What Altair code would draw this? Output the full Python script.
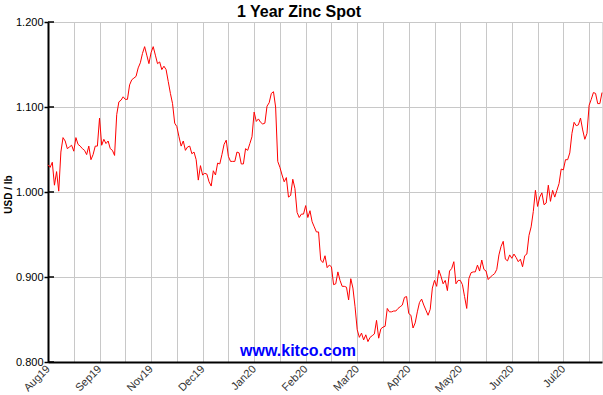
import altair as alt
import pandas as pd

# Zinc spot price (USD / lb), one value per trading day
prices = [
    1.032, 1.029, 1.035, 1.008, 1.024, 1.001, 1.047, 1.064, 1.060, 1.051,
    1.053, 1.055, 1.048, 1.064, 1.056, 1.054, 1.051, 1.049, 1.044, 1.054,
    1.038, 1.044, 1.054, 1.054, 1.087, 1.055, 1.062, 1.057, 1.060, 1.051,
    1.049, 1.043, 1.091, 1.106, 1.108, 1.112, 1.109, 1.109, 1.126, 1.132,
    1.134, 1.136, 1.146, 1.152, 1.163, 1.171, 1.161, 1.151, 1.164, 1.171,
    1.161, 1.151, 1.153, 1.144, 1.148, 1.144, 1.130, 1.116, 1.104, 1.081,
    1.077, 1.065, 1.054, 1.060, 1.049, 1.053, 1.054, 1.045, 1.047, 1.038,
    1.014, 1.031, 1.020, 1.022, 1.021, 1.012, 1.007, 1.025, 1.020, 1.034,
    1.033, 1.044, 1.056, 1.061, 1.042, 1.036, 1.036, 1.036, 1.047, 1.046,
    1.033, 1.033, 1.051, 1.049, 1.057, 1.065, 1.094, 1.083, 1.086, 1.082,
    1.080, 1.081, 1.101, 1.105, 1.116, 1.118, 1.100, 1.036, 1.029, 1.020,
    1.012, 1.017, 0.994, 0.996, 1.015, 1.004, 0.976, 0.970, 0.974, 0.974,
    0.984, 0.970, 0.978, 0.965, 0.959, 0.953, 0.953, 0.920, 0.917, 0.925,
    0.911, 0.914, 0.912, 0.891, 0.892, 0.906, 0.896, 0.889, 0.889, 0.888,
    0.873, 0.898, 0.887, 0.865, 0.838, 0.829, 0.834, 0.826, 0.832, 0.824,
    0.829, 0.831, 0.833, 0.849, 0.828, 0.839, 0.841, 0.842, 0.863, 0.859,
    0.859, 0.860, 0.860, 0.863, 0.865, 0.867, 0.876, 0.877, 0.857, 0.855,
    0.840, 0.846, 0.859, 0.870, 0.874, 0.867, 0.861, 0.855, 0.862, 0.887,
    0.896, 0.889, 0.908, 0.901, 0.892, 0.896, 0.884, 0.907, 0.910, 0.918,
    0.892, 0.896, 0.896, 0.891, 0.877, 0.863, 0.898, 0.905, 0.906, 0.906,
    0.914, 0.907, 0.920, 0.909, 0.907, 0.897, 0.900, 0.902, 0.904, 0.909,
    0.926, 0.936, 0.942, 0.921, 0.919, 0.926, 0.922, 0.927, 0.923, 0.918,
    0.921, 0.912, 0.925, 0.927, 0.949, 0.959, 0.977, 1.002, 0.983, 0.994,
    0.999, 0.985, 0.987, 1.008, 0.989, 1.002, 0.994, 1.002, 1.010, 1.027,
    1.026, 1.038, 1.038, 1.046, 1.069, 1.082, 1.078, 1.079, 1.087, 1.073,
    1.062, 1.069, 1.102, 1.109, 1.117, 1.116, 1.104, 1.104, 1.117,
]

month_labels = ["Aug19", "Sep19", "Nov19", "Dec19", "Jan20", "Feb20",
                "Mar20", "Apr20", "May20", "Jun20", "Jul20"]
label_step = 24          # trading days between labelled gridlines
grid_step = 12           # trading days between gridlines
y_ticks = [0.8, 0.9, 1.0, 1.1, 1.2]

df = pd.DataFrame({"day": list(range(len(prices))), "price": prices})
n_days = len(prices) - 1

grid_values = list(range(0, n_days, grid_step))
labels_js = "[" + ",".join("'" + m + "'" for m in month_labels) + "]"
label_expr = (f"datum.value % {label_step} == 0 ? "
              f"{labels_js}[datum.value / {label_step}] : ''")

FONT = "Liberation Sans"

x_enc = alt.X(
    "day:Q",
    scale=alt.Scale(domain=[0, n_days], nice=False, zero=False),
    axis=alt.Axis(
        values=grid_values, labelExpr=label_expr, title=None,
        grid=True, gridColor="#c8c8c8", gridWidth=1,
        ticks=False, labelAngle=-45, labelAlign="right",
        labelBaseline="middle", labelPadding=5, labelFontSize=11,
        labelFont=FONT, labelColor="#333333",
        domainColor="black", domainWidth=2, labelOverlap=False,
    ),
)
y_enc = alt.Y(
    "price:Q",
    scale=alt.Scale(domain=[0.8, 1.2], nice=False, zero=False),
    axis=alt.Axis(
        values=y_ticks, format=".3f", title="USD / lb",
        titleFont=FONT, titleFontSize=10, titleFontWeight="bold",
        titleColor="black", titleX=-40, titleY=172, titleAlign="center",
        titleBaseline="middle", titleAngle=270,
        grid=True, gridColor="#c8c8c8", gridWidth=1,
        tickSize=4, tickColor="black", tickWidth=1.5,
        labelPadding=1, labelFontSize=11, labelFont=FONT, labelColor="black",
        domainColor="black", domainWidth=2,
    ),
)

line = alt.Chart(df).mark_line(color="#ff0000", strokeWidth=1).encode(x=x_enc, y=y_enc)

inner_ticks = alt.Chart(pd.DataFrame({"price": y_ticks})).mark_rule(
    color="black", strokeWidth=1.5
).encode(y=alt.Y("price:Q"), x=alt.value(0), x2=alt.value(6))

watermark = alt.Chart(pd.DataFrame({"t": ["www.kitco.com"]})).mark_text(
    font=FONT, fontSize=16, fontWeight="bold", color="#0000ff",
    align="center", baseline="alphabetic",
).encode(text="t:N", x=alt.value(250), y=alt.value(334))

chart = alt.layer(line, inner_ticks, watermark).properties(
    width=554, height=340,
    title=alt.TitleParams(
        "1 Year Zinc Spot", font=FONT, fontSize=16, fontWeight="bold",
        color="black", anchor="middle", dx=-26, offset=0, dy=17,
        baseline="alphabetic",
    ),
    autosize=alt.AutoSizeParams(type="none"),
    padding={"left": 48, "top": 22, "right": 1, "bottom": 33},
).configure_view(stroke="black", strokeWidth=1.5).configure(background="white")

chart.save("out.html", embed_options={"renderer": "svg", "actions": False})
